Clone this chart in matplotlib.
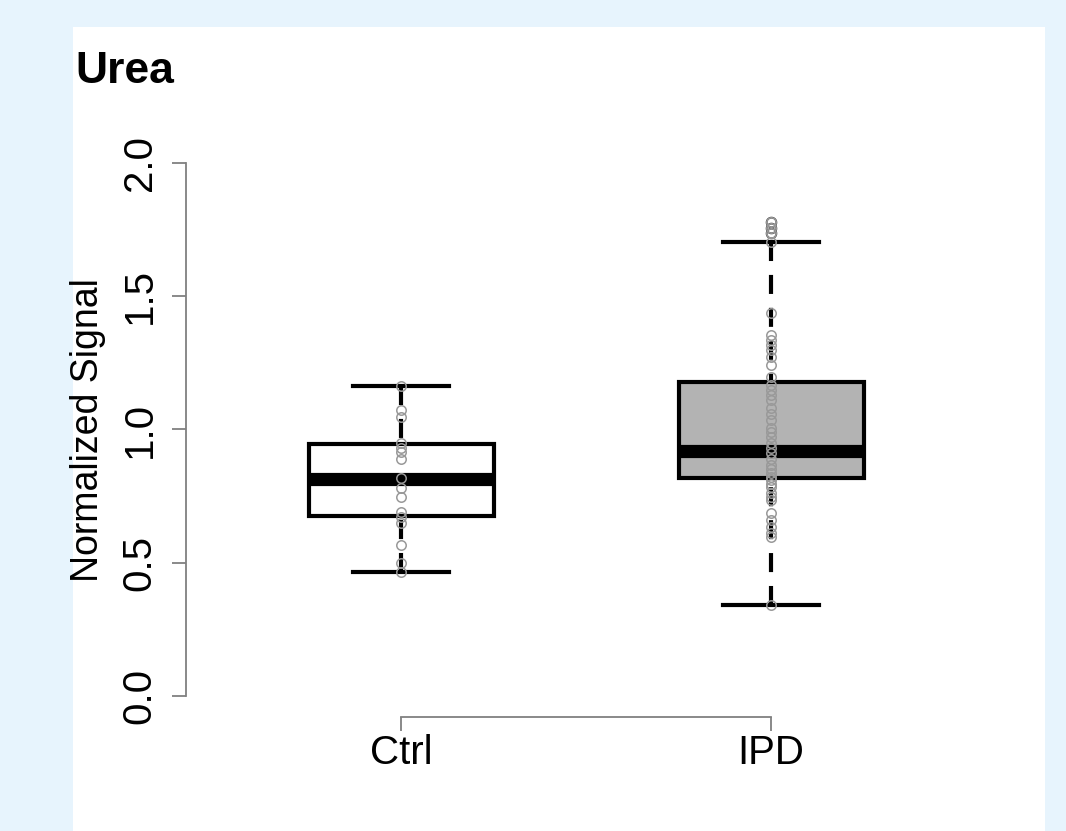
import matplotlib
matplotlib.use("Agg")
import matplotlib.pyplot as plt
from matplotlib.patches import Rectangle

plt.rcParams['font.family'] = ['Liberation Sans', 'DejaVu Sans']
plt.rcParams['lines.scale_dashes'] = False

# ---- data ----
groups = ['Ctrl', 'IPD']
positions = [1, 2]
medians = [0.815, 0.919]
q1s = [0.675, 0.818]
q3s = [0.946, 1.179]
whis_lo = [0.466, 0.341]
whis_hi = [1.163, 1.703]
outliers_ctrl = []
outliers_ipd = [1.737, 1.757, 1.779]
box_colors = ['white', '#b3b3b3']

ctrl_points = [1.163, 1.073, 1.047, 0.949, 0.931, 0.916, 0.889, 0.818,
               0.780, 0.747, 0.690, 0.672, 0.649, 0.567, 0.499, 0.466]
ipd_points = [1.779, 1.757, 1.737, 1.703, 1.437, 1.355, 1.336, 1.317, 1.298,
              1.272, 1.242, 1.197, 1.167, 1.148, 1.130, 1.111, 1.081, 1.060,
              1.036, 1.006, 0.990, 0.972, 0.950, 0.930, 0.912, 0.890, 0.867,
              0.850, 0.837, 0.820, 0.810, 0.795, 0.784, 0.762, 0.745, 0.735,
              0.687, 0.660, 0.634, 0.612, 0.597, 0.341]

yticks = [0.0, 0.5, 1.0, 1.5, 2.0]
ytick_labels = ['0.0', '0.5', '1.0', '1.5', '2.0']

# ---- figure ----
W, H = 1066, 831
fig = plt.figure(figsize=(W / 100, H / 100), dpi=100)
fig.patch.set_facecolor('#e7f4fd')
fig.patches.append(Rectangle((73 / W, 0), (1045 - 73) / W, (831 - 27) / H,
                             transform=fig.transFigure, facecolor='white',
                             edgecolor='none', zorder=-10))

ax = fig.add_axes([186.4 / W, (H - 717.3) / H, 799.2 / W, 575.6 / H])
ax.set_zorder(5)
ax.set_facecolor('none')
ax.set_xlim(0.42, 2.58)
ax.set_ylim(-0.08, 2.08)

stats = []
for i, g in enumerate(groups):
    stats.append(dict(med=medians[i], q1=q1s[i], q3=q3s[i],
                      whislo=whis_lo[i], whishi=whis_hi[i],
                      fliers=[outliers_ctrl, outliers_ipd][i], label=g))

bp = ax.bxp(stats, positions=positions, widths=0.5, capwidths=0.26,
            patch_artist=True, showfliers=True, manage_ticks=False,
            boxprops=dict(edgecolor='black', linewidth=3),
            whiskerprops=dict(color='black', linewidth=3,
                              linestyle=(0, (13.7, 10))),
            capprops=dict(color='black', linewidth=3),
            medianprops=dict(color='black', linewidth=9.5,
                             solid_capstyle='butt'),
            flierprops=dict(marker='o', markerfacecolor='none',
                            markeredgecolor='#333333', markersize=7,
                            markeredgewidth=1.3))
for patch, c in zip(bp['boxes'], box_colors):
    patch.set_facecolor(c)
# dash pattern starts from the cap end
for wl in bp['whiskers']:
    yd = list(wl.get_ydata())
    wl.set_ydata(yd[::-1])

for pos, pts in zip(positions, [ctrl_points, ipd_points]):
    ax.plot([pos] * len(pts), pts, linestyle='none', marker='o',
            markerfacecolor='none', markeredgecolor='#999999',
            markersize=6.8, markeredgewidth=1.1, zorder=4)

for s in ['top', 'right']:
    ax.spines[s].set_visible(False)
axis_grey = '#808080'
ax.spines['left'].set_bounds(0, 2)
ax.spines['bottom'].set_bounds(1, 2)
for s in ['left', 'bottom']:
    ax.spines[s].set_color(axis_grey)
    ax.spines[s].set_linewidth(1.3)

ax.set_yticks(yticks)
ax.set_yticklabels(ytick_labels, rotation=90, va='center')
ax.set_xticks(positions)
ax.set_xticklabels(groups)
ax.tick_params(axis='both', direction='out', length=10, width=1.3,
               color=axis_grey, labelcolor='black', labelsize=29)
ax.tick_params(axis='y', pad=10)
ax.tick_params(axis='x', pad=2)

fig.text(88 / W, (H - 430) / H, 'Normalized Signal', rotation=90,
         ha='center', va='center', fontsize=27)
fig.text(75 / W, (H - 83) / H, 'Urea', fontweight='bold', fontsize=32,
         ha='left', va='baseline')

fig.savefig('out.png', dpi=100, facecolor=fig.get_facecolor())
